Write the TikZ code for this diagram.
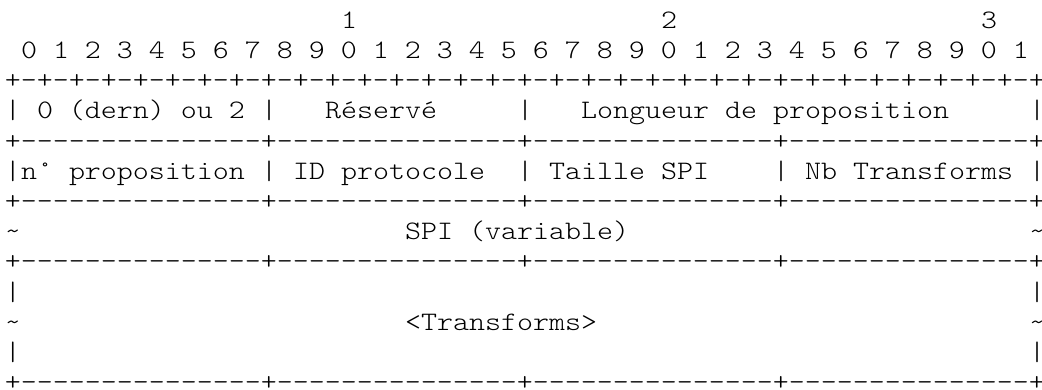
\documentclass[tikz,border=0pt]{standalone}
\usepackage{fontspec}
\usepackage{graphicx}
\newcommand\hr{-{}-{}-{}-{}-{}-{}-{}-{}-{}-{}-{}-{}-{}-{}-{}}% 15 dashes
\newcommand\sep{+\hr+\hr+\hr+\hr+}
\newcommand\cellfont{\fontsize{26.67}{30}\ttfamily\fontseries{l}\selectfont}
% typewriter cells widened to exactly 16pt per character
\newlength\cellwd
\AtBeginDocument{%
  \settowidth\cellwd{\cellfont 0}%
  \xdef\cellscale{\fpeval{16/\the\cellwd}}}
\newcommand\tw[1]{\scalebox{\cellscale}[1]{#1}}
\begin{document}
\begin{tikzpicture}[x=1pt,y=-1pt,
  cell/.style={anchor=base west,inner sep=0pt,outer sep=0pt,
    font=\cellfont,text=black}]
\useasboundingbox (0,0) rectangle (1042,389);
% column c starts at 5+16c, row r has its baseline at 28.3+30.2r
\def\X#1{\fpeval{5+16*#1}}
\def\Y#1{\fpeval{28.3+30.2*#1}}
% bit ruler
\node[cell] (ten1)  at (\X{21},\Y{0}) {\tw{1}};
\node[cell] (ten2)  at (\X{41},\Y{0}) {\tw{2}};
\node[cell] (ten3)  at (\X{61},\Y{0}) {\tw{3}};
\node[cell] (bits)  at (\X{1},\Y{1}) {\tw{0 1 2 3 4 5 6 7 8 9 0 1 2 3 4 5 6 7 8 9 0 1 2 3 4 5 6 7 8 9 0 1}};
\node[cell] (top)   at (\X{0},\Y{2}) {\tw{+-+-+-+-+-+-+-+-+-+-+-+-+-+-+-+-+-+-+-+-+-+-+-+-+-+-+-+-+-+-+-+-+}};
% first word
\node[cell] (b1a) at (\X{0},\Y{3}) {\tw{|}};
\node[cell] (nxt) at (\X{2},\Y{3}) {\tw{0 (dern) ou 2}};
\node[cell] (b1b) at (\X{16},\Y{3}) {\tw{|}};
\node[cell] (res) at (\X{20},\Y{3}) {\tw{Réservé}};
\node[cell] (b1c) at (\X{32},\Y{3}) {\tw{|}};
\node[cell] (len) at (\X{36},\Y{3}) {\tw{Longueur de proposition}};
\node[cell] (b1d) at (\X{64},\Y{3}) {\tw{|}};
\node[cell] (s1)  at (\X{0},\Y{4}) {\tw{\sep}};
% second word
\node[cell] (b2a) at (\X{0},\Y{5}) {\tw{|}};
\node[cell] (num) at (\X{1},\Y{5}) {\tw{n° proposition}};
\node[cell] (b2b) at (\X{16},\Y{5}) {\tw{|}};
\node[cell] (pid) at (\X{18},\Y{5}) {\tw{ID protocole}};
\node[cell] (b2c) at (\X{32},\Y{5}) {\tw{|}};
\node[cell] (spz) at (\X{34},\Y{5}) {\tw{Taille SPI}};
\node[cell] (b2d) at (\X{48},\Y{5}) {\tw{|}};
\node[cell] (ntr) at (\X{50},\Y{5}) {\tw{Nb Transforms}};
\node[cell] (b2e) at (\X{64},\Y{5}) {\tw{|}};
\node[cell] (s2)  at (\X{0},\Y{6}) {\tw{\sep}};
% SPI
\node[cell] (t1a) at (\X{0},\Y{7}) {\tw{\textasciitilde}};
\node[cell] (spi) at (\X{25},\Y{7}) {\tw{SPI (variable)}};
\node[cell] (t1b) at (\X{64},\Y{7}) {\tw{\textasciitilde}};
\node[cell] (s3)  at (\X{0},\Y{8}) {\tw{\sep}};
% transforms
\node[cell] (b3a) at (\X{0},\Y{9}) {\tw{|}};
\node[cell] (b3b) at (\X{64},\Y{9}) {\tw{|}};
\node[cell] (t2a) at (\X{0},\Y{10}) {\tw{\textasciitilde}};
\node[cell] (trf) at (\X{25},\Y{10}) {\tw{<Transforms>}};
\node[cell] (t2b) at (\X{64},\Y{10}) {\tw{\textasciitilde}};
\node[cell] (b4a) at (\X{0},\Y{11}) {\tw{|}};
\node[cell] (b4b) at (\X{64},\Y{11}) {\tw{|}};
\node[cell] (s4)  at (\X{0},\Y{12}) {\tw{\sep}};
\end{tikzpicture}
\end{document}
